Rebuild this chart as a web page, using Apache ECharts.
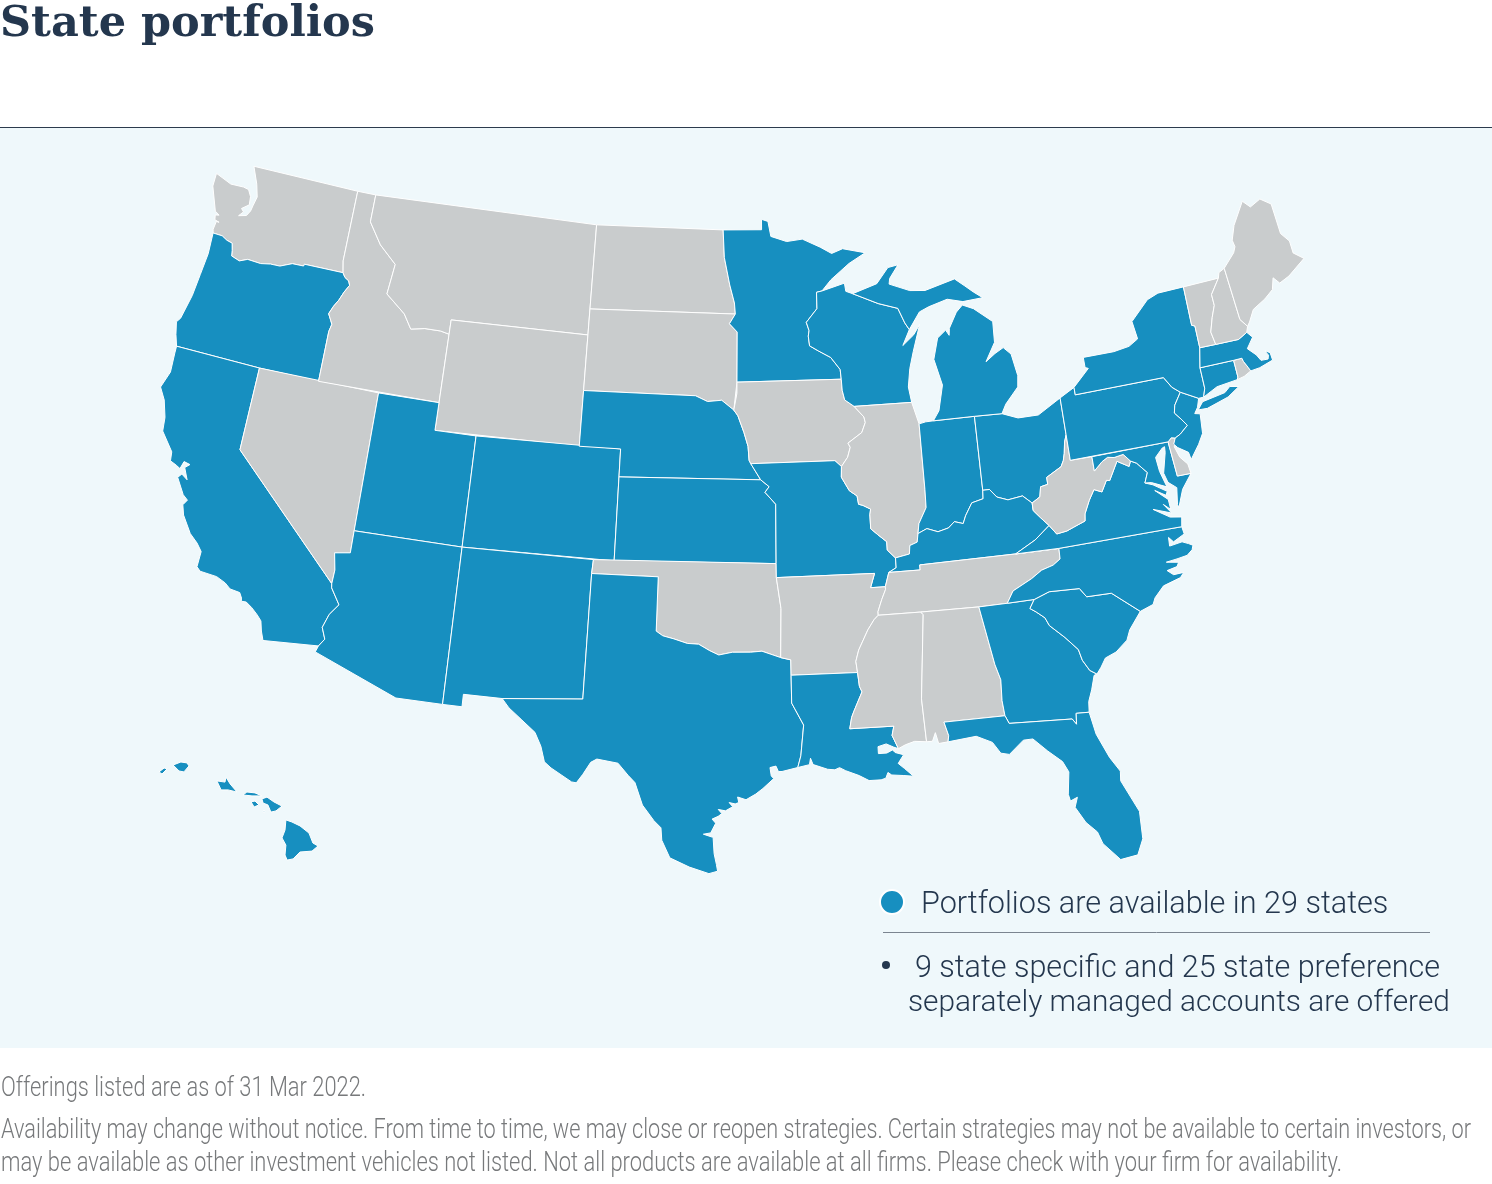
<!DOCTYPE html>
<html>
<head>
<meta charset="utf-8">
<title>State portfolios</title>
<script src="https://cdn.jsdelivr.net/npm/echarts@6/dist/echarts.min.js"></script>
<style>
  html, body { margin: 0; padding: 0; background: #fff; }
  #main { width: 1492px; height: 1184px; }
</style>
</head>
<body>
<div id="main"></div>
<script>
// chart data
const availableStates = ['Oregon', 'California', 'Utah', 'Colorado', 'Arizona', 'New Mexico', 'Nebraska', 'Kansas', 'Texas',
  'Minnesota', 'Missouri', 'Louisiana', 'Wisconsin', 'Michigan', 'Indiana', 'Ohio', 'Kentucky', 'Georgia', 'Florida',
  'South Carolina', 'North Carolina', 'Virginia', 'Maryland', 'Pennsylvania', 'New Jersey', 'New York', 'Connecticut',
  'Massachusetts', 'Hawaii'];
const otherStates = ['Washington', 'Nevada', 'Idaho', 'Montana', 'Wyoming', 'North Dakota', 'South Dakota', 'Oklahoma', 'Iowa',
  'Arkansas', 'Illinois', 'Tennessee', 'Mississippi', 'Alabama', 'West Virginia', 'Delaware', 'Rhode Island', 'Vermont',
  'New Hampshire', 'Maine'];
const legendLabel = 'Portfolios are available in 29 states';
const noteLines = ['9 state specific and 25 state preference', 'separately managed accounts are offered'];
const titleText = 'State portfolios';
const footerLines = [
  'Offerings listed are as of 31 Mar 2022.',
  'Availability may change without notice. From time to time, we may close or reopen strategies. Certain strategies may not be available to certain investors, or',
  'may be available as other investment vehicles not listed. Not all products are available at all firms. Please check with your firm for availability.'
];

// shared state borders, lon/lat
const columbia = [[-124.0,46.27],[-123.5,46.26],[-123.2,46.15],[-122.9,46.1],[-122.8,45.85],[-122.75,45.65],[-122.3,45.55],[-121.9,45.68],[-121.2,45.65],[-120.7,45.72],[-120.2,45.73],[-119.6,45.92],[-119.0,45.93],[-118.98,46.0],[-116.92,46.0]];
const snake = [[-116.92,46.0],[-116.78,45.85],[-116.55,45.75],[-116.46,45.6],[-116.67,45.32],[-116.85,45.0],[-117.05,44.75],[-117.22,44.45],[-117.05,44.23],[-116.95,44.1],[-117.03,43.83],[-117.03,42]];
const orCoast = [[-124.0,46.27],[-123.95,45.5],[-124.05,44.7],[-124.15,43.9],[-124.4,43.0],[-124.55,42.84],[-124.4,42.4],[-124.21,42]];
const caCoast = [[-124.21,42],[-124.2,41.75],[-124.15,41.05],[-124.41,40.44],[-124.07,40.03],[-123.81,39.44],[-123.74,38.95],[-123.07,38.32],[-123.02,38.0],[-122.7,37.9],[-122.5,37.82],[-122.4,38.1],[-122.1,38.05],[-122.3,37.9],[-122.05,37.5],[-122.35,37.65],[-122.5,37.5],[-122.05,36.95],[-121.8,36.8],[-121.95,36.6],[-121.8,36.25],[-121.3,35.67],[-120.9,35.4],[-120.63,35.14],[-120.65,34.58],[-120.47,34.45],[-119.7,34.4],[-119.27,34.25],[-119.0,34.08],[-118.55,34.03],[-118.42,33.85],[-118.4,33.74],[-118.18,33.75],[-117.9,33.6],[-117.6,33.39],[-117.38,33.2],[-117.27,32.85],[-117.12,32.53]];
const coloradoCa = [[-114.72,32.72],[-114.5,33.0],[-114.7,33.4],[-114.5,33.9],[-114.15,34.3],[-114.6,34.85],[-114.63,35.0]];
const coloradoNv = [[-114.63,35.0],[-114.6,35.5],[-114.75,36.1],[-114.05,36.2]];
const idMt = [[-116.05,49],[-116.05,48.0],[-115.3,47.25],[-114.35,46.65],[-114.5,45.55],[-113.45,44.95],[-113.0,44.45],[-112.3,44.55],[-111.5,44.55],[-111.05,44.48]];
const rioGrande = [[-106.53,31.78],[-106.2,31.47],[-105.6,31.08],[-105.0,30.68],[-104.7,30.2],[-104.5,29.65],[-104.2,29.45],[-103.3,29.0],[-103.1,28.98],[-102.85,29.3],[-102.55,29.75],[-102.3,29.88],[-101.4,29.77],[-100.95,29.35],[-100.65,29.1],[-100.3,28.3],[-99.8,27.75],[-99.5,27.5],[-99.45,27.05],[-99.1,26.42],[-98.3,26.1],[-97.5,25.87],[-97.15,25.96]];
const txCoast = [[-97.15,25.96],[-97.2,26.2],[-97.3,26.6],[-97.35,27.2],[-97.4,27.2],[-97.75,27.3],[-97.45,27.35],[-97.25,27.7],[-97.4,27.85],[-97.15,27.95],[-97.0,28.05],[-97.15,28.2],[-96.85,28.15],[-96.55,28.3],[-96.7,28.45],[-96.45,28.4],[-96.3,28.45],[-96.35,28.65],[-96.0,28.55],[-95.6,28.75],[-95.3,28.95],[-94.85,29.3],[-94.95,29.4],[-95.0,29.7],[-94.75,29.75],[-94.65,29.55],[-94.5,29.55],[-93.84,29.68]];
const sabine = [[-93.84,29.68],[-93.7,30.1],[-93.55,31.2],[-94.04,32.0],[-94.04,33.0]];
const redRiver = [[-100.0,34.56],[-99.7,34.4],[-99.2,34.3],[-98.6,34.15],[-98.1,34.13],[-97.6,33.9],[-97.2,33.75],[-96.6,33.85],[-95.8,33.85],[-95.3,33.88],[-94.48,33.64]];
const laCoast = [[-93.84,29.68],[-93.35,29.77],[-93.3,30.0],[-93.2,29.77],[-92.6,29.58],[-92.3,29.55],[-92.1,29.62],[-91.85,29.5],[-91.3,29.3],[-90.9,29.1],[-90.4,29.1],[-90.2,29.15],[-90.1,29.35],[-89.95,29.25],[-89.45,29.2],[-89.05,29.15],[-89.4,29.45],[-89.65,29.65],[-89.4,29.95],[-89.75,30.05],[-89.85,30.15],[-90.1,30.05],[-90.45,30.05],[-90.45,30.3],[-90.1,30.38],[-89.8,30.25],[-89.6,30.18]];
const laMs = [[-89.6,30.18],[-89.83,30.67],[-89.73,31.0],[-91.6,31.0]];
const missLa = [[-91.6,31.0],[-91.5,31.4],[-91.4,31.6],[-91.0,32.3],[-91.1,32.5],[-91.15,33.0]];
const missMsAr = [[-91.15,33.0],[-91.2,33.4],[-91.05,33.8],[-90.6,34.5],[-90.3,34.85],[-90.1,35.0]];
const missTn = [[-90.1,35.0],[-90.1,35.13],[-89.9,35.55],[-89.7,35.9],[-89.7,36.0],[-89.5,36.5]];
const missArTn = [[-90.1,35.0],[-90.1,35.13],[-89.9,35.55],[-89.7,35.9],[-89.7,36.0]];
const missKy = [[-89.5,36.5],[-89.15,36.65],[-89.15,37.0]];
const missIl = [[-89.15,37.0],[-89.5,37.3],[-89.5,37.6],[-89.9,37.88],[-90.2,38.1],[-90.2,38.6],[-90.15,38.8],[-90.5,38.95],[-90.7,39.0],[-90.75,39.3],[-91.1,39.5],[-91.45,40.0],[-91.42,40.38]];
const missIa = [[-91.42,40.38],[-91.1,40.7],[-90.95,41.05],[-91.05,41.2],[-90.35,41.55],[-90.15,41.9],[-90.2,42.1],[-90.65,42.5]];
const missWi = [[-90.65,42.5],[-91.1,42.75],[-91.2,43.1],[-91.22,43.5]];
const mnWi = [[-91.22,43.5],[-91.25,43.85],[-91.7,44.3],[-92.3,44.55],[-92.75,44.75],[-92.8,45.1],[-92.75,45.3],[-92.88,45.6],[-92.3,46.08],[-92.29,46.67],[-92.0,46.71]];
const missouriIa = [[-96.45,43.5],[-96.45,43.1],[-96.6,42.5],[-96.4,42.3],[-96.1,41.7],[-95.9,41.2],[-95.85,40.7],[-95.77,40.58]];
const neSd = [[-104.05,43],[-98.5,43],[-97.9,42.8],[-97.2,42.85],[-96.6,42.5]];
const neIa = [[-96.6,42.5],[-96.4,42.3],[-96.1,41.7],[-95.9,41.2],[-95.85,40.7],[-95.77,40.58]];
const neMo = [[-95.77,40.58],[-95.3,40]];
const ksMo = [[-95.3,40],[-94.9,39.75],[-95.1,39.55],[-94.6,39.12],[-94.62,37]];
const mnDak = [[-97.23,49],[-97.15,48.0],[-96.85,47.0],[-96.6,46.35],[-96.55,45.95]];
const mnSd = [[-96.55,45.95],[-96.85,45.6],[-96.45,45.3],[-96.45,43.5]];
const ohioIl = [[-89.15,37.0],[-88.5,37.1],[-88.45,37.4],[-88.1,37.5],[-88.03,37.8]];
const ohioIn = [[-88.03,37.8],[-87.6,37.95],[-87.1,37.8],[-86.6,37.9],[-86.3,38.1],[-85.9,38.0],[-85.75,38.27],[-85.4,38.7],[-84.85,38.8],[-84.82,39.1]];
const ohioOh = [[-84.82,39.1],[-84.5,39.1],[-84.2,38.8],[-83.7,38.65],[-83.0,38.72],[-82.6,38.42]];
const ohioWv = [[-82.6,38.42],[-82.2,38.6],[-82.1,38.95],[-81.75,39.0],[-81.75,39.25],[-81.0,39.55],[-80.85,39.75],[-80.75,40.0],[-80.65,40.4],[-80.52,40.64]];
const wabash = [[-88.03,37.8],[-87.95,38.15],[-87.55,38.7],[-87.53,39.35],[-87.53,41.7]];
const kyWv = [[-82.6,38.42],[-82.6,38.15],[-82.3,37.85],[-81.97,37.54]];
const kyVa = [[-81.97,37.54],[-82.7,37.1],[-83.67,36.7]];
const vaWv = [[-81.97,37.54],[-81.68,37.2],[-81.2,37.25],[-80.85,37.35],[-80.3,37.5],[-80.25,37.75],[-79.95,38.2],[-79.65,38.55],[-79.3,38.42],[-79.0,38.8],[-78.85,38.77],[-78.35,39.4],[-77.83,39.14],[-77.72,39.32]];
const wvMd = [[-77.72,39.32],[-78.0,39.6],[-78.45,39.55],[-78.75,39.6],[-79.05,39.48],[-79.48,39.2],[-79.48,39.72]];
const vaMd = [[-77.72,39.32],[-77.45,39.2],[-77.25,39.0],[-77.04,38.8],[-77.25,38.45]];
const ncTn = [[-81.68,36.68],[-81.7,36.3],[-82.05,36.12],[-82.6,36.0],[-83.1,35.75],[-84.0,35.4],[-84.32,34.99]];
const ncSc = [[-83.11,35.0],[-82.4,35.2],[-81.04,35.15],[-80.78,34.82],[-79.67,34.8],[-78.55,33.98]];
const ncCoast = [[-75.99,36.66],[-75.95,36.39],[-76.5,36.19],[-76.68,36.38],[-76.71,36.07],[-76.12,36.13],[-75.85,36.02],[-75.67,35.93],[-75.75,35.78],[-76.02,35.62],[-76.5,35.57],[-77.0,35.53],[-76.46,35.44],[-76.57,35.3],[-77.04,35.23],[-76.79,35.04],[-76.33,35.05],[-76.52,34.89],[-77.33,34.72],[-77.8,34.36],[-77.94,34.14],[-78.55,33.98]];
const savannah = [[-83.11,35.0],[-83.35,34.7],[-83.1,34.55],[-82.75,34.3],[-82.6,34.0],[-82.0,33.5],[-81.5,33.0],[-81.4,32.6],[-81.15,32.2],[-80.87,32.03]];
const scCoast = [[-80.87,32.03],[-80.65,32.25],[-80.4,32.55],[-79.9,32.7],[-79.35,33.05],[-79.15,33.4],[-78.55,33.98]];
const gaAl = [[-85.6,34.98],[-85.18,32.87],[-85.0,32.3],[-85.05,31.55],[-85.0,31.0]];
const gaFl = [[-85.0,31.0],[-84.86,30.71],[-82.2,30.57],[-82.05,30.36],[-82.0,30.75],[-81.45,30.72]];
const flAl = [[-85.0,31.0],[-87.6,31.0],[-87.45,30.5],[-87.5,30.28]];
const msAl = [[-88.4,30.35],[-88.47,31.9],[-88.1,34.9],[-88.2,35.0]];
const wiMi = [[-90.4,46.55],[-89.1,46.13],[-88.1,45.9],[-87.8,45.35],[-87.6,45.1]];
const delaware = [[-75.42,39.8],[-75.14,39.9],[-74.72,40.15],[-74.95,40.42],[-75.2,40.68],[-75.1,40.95],[-74.7,41.36]];
const paNy = [[-74.7,41.36],[-75.05,41.6],[-75.35,42.0],[-79.76,42.0],[-79.76,42.27]];
const nyCt = [[-73.65,41.0],[-73.5,41.3],[-73.49,42.05]];
const nyMa = [[-73.49,42.05],[-73.27,42.75]];
const nyVt = [[-73.27,42.75],[-73.25,43.55],[-73.4,43.6],[-73.35,45.01]];
const maNorth = [[-70.82,42.87],[-71.3,42.7],[-72.46,42.73],[-73.27,42.75]];
const vtNh = [[-72.46,42.73],[-72.55,43.2],[-72.3,43.7],[-72.05,44.1],[-72.05,44.5],[-71.5,45.01]];
const nhMe = [[-70.7,43.07],[-70.98,43.38],[-71.08,45.3]];
const ctSouth = [[-73.65,41.0],[-72.9,41.25],[-71.86,41.32]];
const riMa = [[-71.8,42.02],[-71.38,42.02],[-71.35,41.9],[-71.2,41.65],[-71.12,41.5]];

function rev(line) { return line.slice().reverse(); }
function ring() { return [].concat.apply([], arguments); }

const statePolygons = {
  Washington: [ring([[-122.85,49],[-117.04,49],[-117.04,46.42]], rev(columbia), [[-124.05,46.4],[-124.0,46.7],[-123.85,46.7],[-124.1,46.75],[-124.15,46.92],[-123.95,46.95],[-124.2,47.05],[-124.7,47.9],[-124.7,48.38],[-123.8,48.15],[-123.1,48.17],[-122.8,48.13],[-122.6,47.9],[-122.55,47.6],[-122.9,47.4],[-122.75,47.3],[-122.95,47.12],[-122.55,47.2],[-122.4,47.4],[-122.35,47.6],[-122.25,47.95],[-122.45,48.4]])],
  Oregon: [ring(orCoast, [[-120,42]], rev(snake), rev(columbia))],
  California: [ring(caCoast, [[-114.72,32.72]], coloradoCa, [[-120,39],[-120,42]])],
  Nevada: [ring([[-120,42],[-114.04,42]], rev(coloradoNv), [[-120,39]])],
  Idaho: [ring([[-117.04,49]], idMt, [[-111.05,42]], rev(snake), [[-117.04,46.42]])],
  Montana: [ring(idMt, [[-111.05,45],[-104.05,45],[-104.05,49]])],
  Wyoming: [[[-111.05,45],[-104.05,45],[-104.05,41],[-111.05,41]]],
  Utah: [[[-114.04,42],[-111.05,42],[-111.05,41],[-109.05,41],[-109.05,37],[-114.05,37]]],
  Colorado: [[[-109.05,41],[-102.05,41],[-102.05,37],[-109.05,37]]],
  Arizona: [ring([[-114.05,37],[-109.05,37],[-109.05,31.33],[-111.07,31.33],[-114.81,32.49]], coloradoCa, coloradoNv)],
  'New Mexico': [[[-109.05,37],[-103,37],[-103.04,36.5],[-103.06,32],[-106.53,31.78],[-108.21,31.78],[-108.21,31.33],[-109.05,31.33]]],
  'North Dakota': [ring([[-104.05,49]], mnDak, [[-104.05,45.94]])],
  'South Dakota': [ring([[-104.05,45.94]], mnSd, rev(neSd))],
  Nebraska: [ring(neSd, neIa, neMo, [[-102.05,40],[-102.05,41],[-104.05,41]])],
  Kansas: [ring([[-102.05,40]], ksMo, [[-102.05,37]])],
  Oklahoma: [ring([[-103,37],[-94.62,37],[-94.62,36.5],[-94.43,35.39]], rev(redRiver), [[-100,36.5],[-103.04,36.5]])],
  Texas: [ring(rioGrande.slice(0,1), [[-103.06,32],[-103.04,36.5],[-100,36.5]], redRiver, [[-94.04,33.55]], rev(sabine), rev(txCoast), rev(rioGrande))],
  Minnesota: [ring([[-97.23,49],[-95.15,49],[-95.15,49.38],[-94.8,49.3],[-94.65,48.75],[-93.8,48.55],[-92.95,48.62],[-92.0,48.3],[-91.4,48.05],[-90.8,48.2],[-89.6,48.0],[-90.5,47.65],[-91.5,47.1]], rev(mnWi), [[-96.45,43.5]], rev(mnSd), rev(mnDak).slice(1))],
  Iowa: [ring(missouriIa, [[-91.72,40.6]], [[-91.42,40.38]], missIa, missWi)],
  Missouri: [ring([[-95.77,40.58],[-91.72,40.6]], rev(missIl), rev(missKy), [[-89.7,36.0],[-90.37,36.0],[-90.15,36.5],[-94.62,36.5]], rev(ksMo))],
  Arkansas: [ring([[-94.62,36.5],[-90.15,36.5],[-90.37,36.0]], rev(missArTn), rev(missMsAr), [[-94.04,33.0],[-94.04,33.55],[-94.48,33.64],[-94.43,35.39]])],
  Louisiana: [ring([[-94.04,33.0],[-91.15,33.0]], rev(missLa), rev(laMs), rev(laCoast), sabine)],
  Wisconsin: [ring(rev(mnWi), rev(missWi), [[-87.8,42.49],[-87.9,43.05],[-87.75,43.7],[-87.5,44.3],[-87.05,45.25],[-87.4,44.9],[-88.0,44.55]], rev(wiMi), [[-90.75,46.65],[-90.8,46.95],[-91.2,46.87]])],
  Illinois: [ring([[-90.65,42.5],[-87.8,42.49]], rev(wabash), rev(ohioIl), missIl, missIa)],
  Indiana: [ring(wabash, [[-87.2,41.75],[-86.82,41.76],[-84.8,41.76]], rev(ohioIn))],
  Ohio: [ring([[-84.8,41.76],[-83.45,41.73],[-82.7,41.5],[-81.7,41.5],[-80.52,41.98]], rev(ohioWv), rev(ohioOh))],
  Kentucky: [ring([[-89.5,36.5],[-88.07,36.5],[-88.07,36.68]], rev(kyVa), rev(kyWv), rev(ohioOh), rev(ohioIn), rev(ohioIl), rev(missKy))],
  Tennessee: [ring(missTn, [[-88.07,36.5],[-88.07,36.68],[-83.67,36.7]], ncTn, [[-85.6,34.98],[-88.2,35.0]])],
  Mississippi: [ring([[-88.2,35.0]], rev(missMsAr), rev(missLa), rev(laMs), [[-89.3,30.3],[-88.9,30.4]], msAl)],
  Alabama: [ring(rev(msAl), [[-88.15,30.35],[-88.0,30.65],[-87.9,30.25]], rev(flAl), rev(gaAl))],
  Georgia: [ring([[-84.32,34.99],[-83.11,35.0]], savannah, [[-81.0,32.0],[-81.2,31.5],[-81.4,31.1]], rev(gaFl), rev(gaAl))],
  Florida: [ring(rev(flAl), gaFl, [[-81.3,29.9],[-80.9,29.0],[-80.55,28.45],[-80.6,28.1],[-80.05,26.9],[-80.1,25.9],[-80.4,25.35],[-81.1,25.28],[-81.7,25.95],[-81.85,26.4],[-82.25,26.8],[-82.6,27.4],[-82.45,27.75],[-82.75,27.65],[-82.8,27.9],[-82.65,28.7],[-82.85,29.1],[-83.4,29.55],[-83.95,30.05],[-84.35,30.05],[-85.0,29.6],[-85.35,29.68],[-85.65,30.1],[-86.3,30.38]])],
  'South Carolina': [ring(ncSc, rev(scCoast), rev(savannah))],
  'North Carolina': [ring([[-83.67,36.7],[-81.68,36.68]], ncCoast, rev(ncSc), [[-84.32,34.99]], rev(ncTn))],
  Virginia: [ring([[-75.99,36.66],[-81.68,36.68],[-83.67,36.7]], rev(kyVa), vaWv, vaMd, [[-76.9,38.33],[-76.31,38.0],[-76.4,37.87],[-76.87,38.12],[-76.34,37.71],[-76.32,37.34],[-76.61,37.57],[-76.31,37.21],[-76.35,37.19],[-77.12,37.47],[-76.42,37.08],[-75.9,37.0]])],
  'West Virginia': [ring(rev(ohioWv), kyWv, vaWv, wvMd, [[-80.52,39.72]])],
  // the Delmarva tip is drawn with Maryland: the reference shows no line across it
  Maryland: [ring([[-79.48,39.72],[-75.79,39.72],[-75.7,38.46],[-75.05,38.45],[-75.59,37.96],[-75.94,37.34],[-75.97,37.47],[-75.84,38.06],[-76.19,38.31],[-76.3,38.66],[-76.03,39.37],[-76.0,39.58],[-76.12,39.55],[-76.52,39.27],[-76.47,38.75],[-76.28,38.16],[-76.95,38.42]], rev(vaMd), wvMd)],
  Delaware: [[[-75.79,39.72],[-75.6,39.84],[-75.42,39.8],[-75.55,39.5],[-75.4,39.1],[-75.1,38.8],[-75.05,38.45],[-75.7,38.46]]],
  Pennsylvania: [ring([[-80.52,39.72],[-75.79,39.72],[-75.6,39.84]], delaware, paNy, [[-80.52,41.98],[-80.52,40.64]])],
  'New Jersey': [ring([[-74.7,41.36],[-73.9,41.0],[-74.05,40.7],[-74.25,40.5],[-74.0,40.45],[-74.1,39.75],[-74.4,39.4],[-74.9,38.93],[-74.95,39.2],[-75.4,39.45],[-75.55,39.6]], delaware)],
  'New York': [
    ring(paNy, [[-78.9,42.85],[-79.05,42.9],[-79.05,43.27],[-77.5,43.27],[-76.7,43.35],[-76.2,43.55],[-76.3,44.2],[-75.3,44.85],[-74.7,45.0],[-73.35,45.01]], rev(nyVt), rev(nyMa), rev(nyCt), [[-73.9,41.0]]),
    [[-74.05,40.6],[-73.75,40.85],[-72.6,40.98],[-72.3,41.15],[-71.87,41.07],[-72.5,40.8],[-73.6,40.58]]
  ],
  Connecticut: [ring(nyCt, [[-71.8,42.02],[-71.8,41.4]], rev(ctSouth))],
  'Rhode Island': [ring(riMa, [[-71.5,41.37],[-71.86,41.32],[-71.8,41.4]])],
  Massachusetts: [ring([[-73.49,42.05]], riMa, [[-70.65,41.53],[-69.95,41.67],[-69.97,41.95],[-70.2,42.07],[-70.08,41.88],[-70.15,41.75],[-70.5,41.77],[-70.65,42.0],[-71.0,42.3],[-70.6,42.65]], maNorth)],
  Vermont: [ring(nyVt, [[-71.5,45.01]], rev(vtNh))],
  'New Hampshire': [ring(vtNh, [[-71.4,45.2]], rev(nhMe), [[-70.82,42.87],[-71.3,42.7]])],
  Maine: [ring(nhMe, [[-70.4,45.75],[-70.25,45.95],[-70.3,46.2],[-70.0,46.7],[-69.23,47.46],[-68.9,47.18],[-68.3,47.36],[-67.8,47.07],[-67.78,45.95],[-67.45,45.6],[-67.45,45.15],[-67.0,44.85],[-68.0,44.4],[-68.55,44.25],[-68.8,44.5],[-69.0,44.1],[-69.5,43.85],[-70.2,43.6],[-70.55,43.2]])],
  Michigan: [
    ring(wiMi, [[-87.0,45.7],[-86.5,45.85],[-85.5,46.05],[-84.7,45.9],[-83.65,45.95],[-84.1,46.2],[-84.5,46.45],[-85.0,46.75],[-86.6,46.45],[-87.4,46.5],[-88.45,46.8],[-88.4,47.0],[-87.9,47.47],[-88.45,47.4],[-89.1,46.85]]),
    [[-84.75,45.78],[-85.1,45.55],[-85.55,45.0],[-85.6,44.75],[-85.75,44.95],[-86.2,44.7],[-86.5,43.95],[-86.2,43.0],[-86.5,42.1],[-86.82,41.76],[-84.8,41.76],[-83.45,41.73],[-83.2,42.05],[-82.5,42.6],[-82.42,43.0],[-82.6,43.8],[-82.95,44.07],[-83.4,43.9],[-83.9,43.65],[-83.35,44.3],[-83.3,45.05],[-84.2,45.6]]
  ],
  Hawaii: [
    [[-155.97,20.27],[-155.77,20.2],[-155.5,20.07],[-155.2,19.83],[-155.07,19.5],[-154.9,19.4],[-155.1,19.23],[-155.5,19.2],[-155.73,18.97],[-155.93,18.93],[-156.0,19.1],[-155.97,19.43],[-156.1,19.67],[-156.0,19.93]],
    [[-156.77,20.97],[-156.6,21.03],[-156.37,20.87],[-156.1,20.73],[-156.3,20.57],[-156.47,20.53],[-156.57,20.77],[-156.73,20.83]],
    [[-157.4,21.1],[-157.27,21.2],[-157.0,21.17],[-156.77,21.07],[-157.1,21.07]],
    [[-157.13,20.87],[-157.0,20.9],[-156.87,20.77],[-157.03,20.7]],
    [[-156.73,20.57],[-156.67,20.57],[-156.7,20.47]],
    [[-158.27,21.57],[-158.0,21.53],[-157.97,21.7],[-157.83,21.47],[-157.6,21.2],[-157.9,21.27],[-158.13,21.27]],
    [[-159.73,22.1],[-159.47,22.2],[-159.27,22.17],[-159.2,22.07],[-159.37,21.87],[-159.53,21.9]],
    [[-160.2,21.87],[-160.03,22.0],[-159.93,21.97],[-160.1,21.8]]
  ]
};

// Albers projection scaled to page pixels; Hawaii gets its own inset
const R = 1590, X0 = 746, Y0 = 550, D2R = Math.PI / 180, LON0 = -96;
const N = (Math.sin(29.5 * D2R) + Math.sin(45.5 * D2R)) / 2;
const C = Math.pow(Math.cos(29.5 * D2R), 2) + 2 * N * Math.sin(29.5 * D2R);
const RHO0 = R * Math.sqrt(C - 2 * N * Math.sin(37.5 * D2R)) / N;

function project(pt) {
  if (pt[0] < -140) return [300 + 30 * (pt[0] + 155.5), 840 - 30 * (pt[1] - 19.6)];
  const rho = R * Math.sqrt(C - 2 * N * Math.sin(pt[1] * D2R)) / N;
  const theta = N * (pt[0] - LON0) * D2R;
  const dx = rho * Math.sin(theta);
  // small fit to the reference: slightly narrower, flatter and more slanted towards the west
  const y = Y0 - RHO0 + rho * Math.cos(theta) - 0.0063 * dx + 0.0000114 * dx * dx;
  const west = Math.max(Math.min(dx, 0), -400);
  return [X0 + dx * 0.995 - 0.000042 * west * (y - 530), y];
}
function unproject(p) {
  const dx = (p[0] - X0) / 0.995, yy = p[1] - Y0 + RHO0;
  const rho = Math.sqrt(dx * dx + yy * yy);
  const lat = Math.asin((C - Math.pow(rho * N / R, 2)) / (2 * N));
  return [Math.atan2(dx, yy) / N / D2R + LON0, lat / D2R];
}

const features = Object.keys(statePolygons).map(function (name) {
  return {
    type: 'Feature',
    properties: { name: name },
    geometry: {
      type: 'MultiPolygon',
      coordinates: statePolygons[name].map(function (r) { return [r.concat([r[0]])]; })
    }
  };
});
echarts.registerMap('usa', { type: 'FeatureCollection', features: features });

// map box equals the projected bounds so that the projection's pixels land on the page
let minX = Infinity, minY = Infinity, maxX = -Infinity, maxY = -Infinity;
features.forEach(function (f) {
  f.geometry.coordinates.forEach(function (poly) {
    poly[0].forEach(function (pt) {
      const p = project(pt);
      minX = Math.min(minX, p[0]); maxX = Math.max(maxX, p[0]);
      minY = Math.min(minY, p[1]); maxY = Math.max(maxY, p[1]);
    });
  });
});

const BLUE = '#178fc0', GRAY = '#c9cccd', INK = '#24374e';
const BODY_FONT = 'Roboto';
const FOOT_FONT = '300 28px Roboto';

// the reference face is condensed, so footer lines are squeezed to their measured widths
const measure = document.createElement('canvas').getContext('2d');
function footerLine(text, y, width) {
  measure.font = FOOT_FONT;
  return { type: 'text', x: 1, y: y, scaleX: width / measure.measureText(text).width, style: { text: text, fill: '#77797b', font: FOOT_FONT } };
}

const chart = echarts.init(document.getElementById('main'));
const mapData = availableStates.map(function (name) {
  return { name: name, value: 1, itemStyle: { areaColor: BLUE } };
}).concat(otherStates.map(function (name) {
  return { name: name, value: 0, itemStyle: { areaColor: GRAY } };
}));

chart.setOption({
  animation: false,
  title: {
    text: titleText, left: 0, top: 3, padding: 0,
    textStyle: { color: INK, fontFamily: 'DejaVu Serif', fontWeight: 'bold', fontSize: 43 }
  },
  legend: {
    data: [legendLabel], left: 879, top: 889, padding: 0, icon: 'circle', itemWidth: 24, itemHeight: 24, itemGap: 0, selectedMode: false,
    itemStyle: { color: BLUE },
    formatter: '{t|{name}}',
    textStyle: {
      rich: { t: { color: INK, fontFamily: BODY_FONT, fontWeight: 300, fontSize: 30.6, padding: [6, 0, 0, 12] } }
    }
  },
  graphic: [
    { type: 'rect', z: -10, shape: { x: 0, y: 128, width: 1492, height: 920 }, style: { fill: '#eff8fb' } },
    { type: 'line', z: -9, shape: { x1: 0, y1: 127.5, x2: 1492, y2: 127.5 }, style: { stroke: '#2c3b4d', lineWidth: 1 } },
    { type: 'line', shape: { x1: 883, y1: 932.5, x2: 1430, y2: 932.5 }, style: { stroke: '#7b8590', lineWidth: 1 } },
    { type: 'circle', shape: { cx: 886, cy: 965, r: 4 }, style: { fill: INK } },
    { type: 'text', x: 915, y: 954, style: { text: noteLines[0], fill: INK, font: '300 30.5px ' + BODY_FONT } },
    { type: 'text', x: 908, y: 989, style: { text: noteLines[1], fill: INK, font: '300 29.8px ' + BODY_FONT } },
    footerLine(footerLines[0], 1075, 365),
    footerLine(footerLines[1], 1117, 1470),
    footerLine(footerLines[2], 1150, 1341)
  ],
  series: [{
    name: legendLabel,
    type: 'map',
    map: 'usa',
    projection: { project: project, unproject: unproject },
    left: minX, top: minY, width: maxX - minX, height: maxY - minY,
    roam: false, silent: true, selectedMode: false,
    showLegendSymbol: false,
    label: { show: false },
    emphasis: { disabled: true },
    itemStyle: { color: BLUE, areaColor: GRAY, borderColor: '#ffffff', borderWidth: 1 },
    data: mapData
  }]
});
</script>
</body>
</html>
